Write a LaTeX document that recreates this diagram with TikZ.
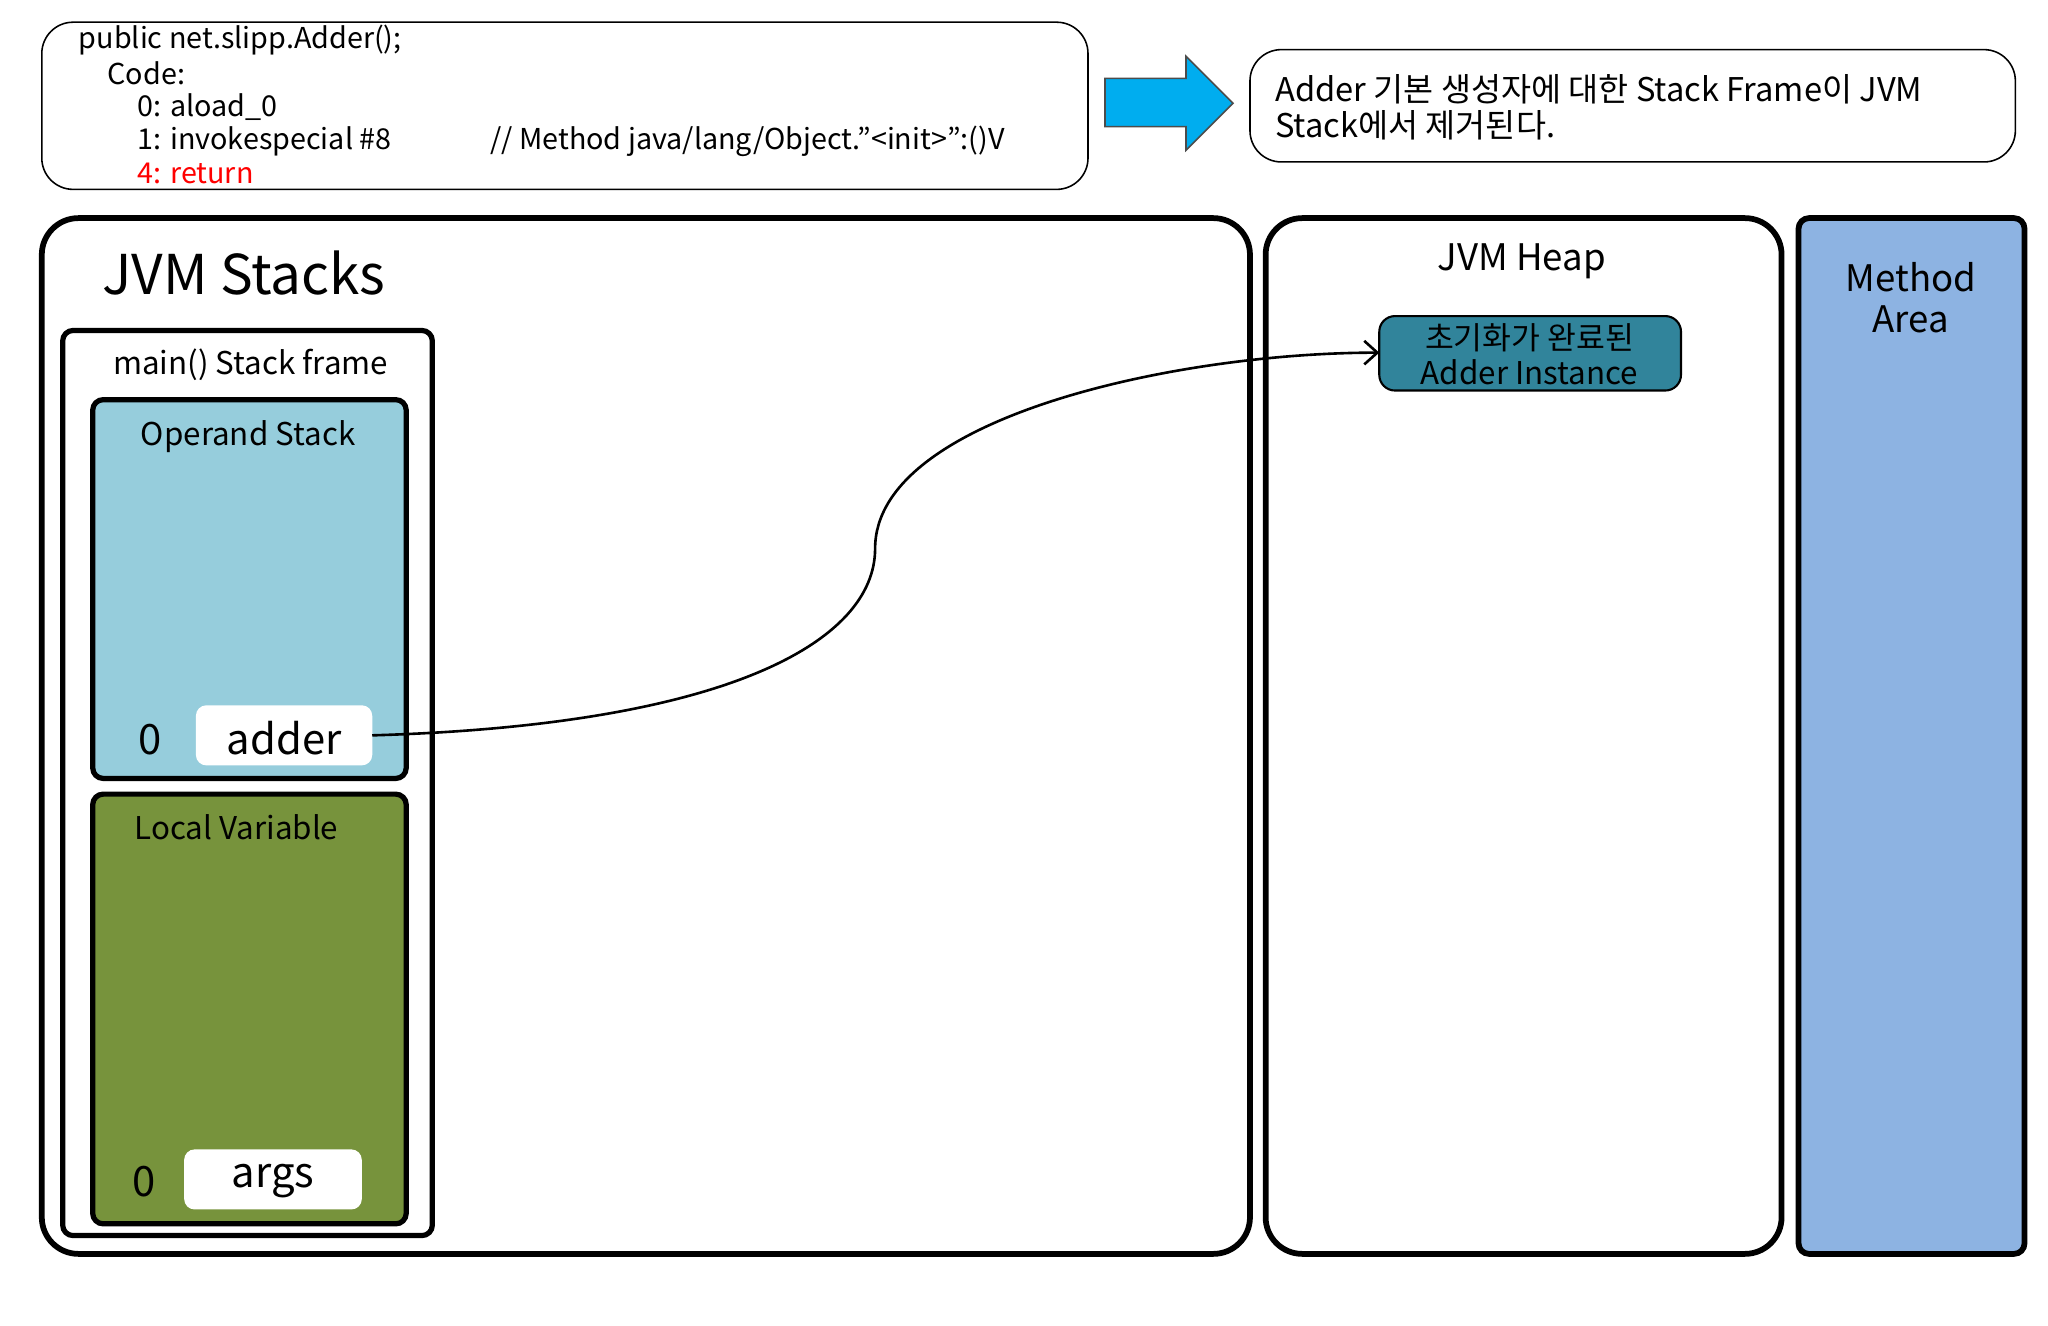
\documentclass[tikz,border=0pt]{standalone}
\usepackage{fontspec}
\setmainfont{Noto Sans CJK KR}
\usetikzlibrary{arrows.meta}
\begin{document}
\begin{tikzpicture}[x=0.5pt,y=-0.5pt,
  thinbox/.style={draw,rounded corners=12pt,line width=0.6pt},
  thickbox/.style={draw,rounded corners=14pt,line width=2.2pt},
  frame/.style={draw,rounded corners=4pt,line width=2pt},
  cell/.style={fill=white,rounded corners=4pt},
  t/.style={anchor=west,inner sep=0,font=\fontsize{11}{11}\selectfont}]
\useasboundingbox[fill=white] (0,0) rectangle (1568,1015);
% code box
\draw[thinbox] (32,17) rectangle (833,145);
\node[t] (c1) at (60,31) {public net.slipp.Adder();};
\node[t] (c2) at (82,56) {Code:};
\node[t] (c3) at (105,82) {0: aload\_0};
\node[t] (c4) at (105,108) {1: invokespecial \#8};
\node[t] (c5) at (375,108) {// Method java/lang/Object.\symbol{34}<init>\symbol{34}:()V};
\node[t,text=red] (c6) at (105,133) {4: return};
% arrow
\draw[fill=cyan,draw=black!70,line width=0.6pt] (846,60)--(908,60)--(908,43)--(944,79)--(908,115)--(908,97)--(846,97)--cycle;
% note
\draw[thinbox] (957,38) rectangle (1543,124);
\node[t,font=\fontsize{12.5}{12.5}\selectfont] (n1) at (976,68) {Adder 기본 생성자에 대한 Stack Frame이 JVM};
\node[t,font=\fontsize{12.5}{12.5}\selectfont] (n2) at (976,96) {Stack에서 제거된다.};
% stacks
\draw[thickbox] (32,167) rectangle (957,960);
\node[t,font=\fontsize{21}{21}\selectfont] (st) at (78,209) {JVM Stacks};
\draw[frame] (48,253) rectangle (331,946);
\node[font=\fontsize{12}{12}\selectfont] (mf) at (192,279) {main() Stack frame};
\draw[frame,fill={rgb,255:red,150;green,205;blue,220}] (71,306) rectangle (311,596);
\node[font=\fontsize{12}{12}\selectfont] (os) at (190,334) {Operand Stack};
\node[font=\fontsize{16}{16}\selectfont] (z1) at (115,566) {0};
\fill[cell] (150,540) rectangle (285,586);
\node[font=\fontsize{16}{16}\selectfont] (adder) at (217.5,565) {adder};
\coordinate (ae) at (285,563);
\draw[frame,fill={rgb,255:red,119;green,147;blue,60}] (71,608) rectangle (311,937);
\node[font=\fontsize{12}{12}\selectfont] (lv) at (181,633) {Local Variable};
\node[font=\fontsize{16}{16}\selectfont] (z2) at (110,905) {0};
\fill[cell] (141,880) rectangle (277,926);
\node[font=\fontsize{16}{16}\selectfont] (args) at (209,904) {args};
% heap
\draw[thickbox] (969,167) rectangle (1364,960);
\node[font=\fontsize{14}{14}\selectfont] (hp) at (1165,200) {JVM Heap};
\draw[rounded corners=6pt,fill={rgb,255:red,49;green,132;blue,155},line width=0.8pt] (1056,242) rectangle (1287,299);
\node[align=center,font=\fontsize{12}{13.5}\selectfont,inner sep=0] (inst) at (1171,271) {초기화가 완료된\\Adder Instance};
\coordinate (iw) at (1056,270);
% method area
\draw[draw,line width=2.2pt,rounded corners=4pt,fill={rgb,255:red,141;green,179;blue,226}] (1377,167) rectangle (1550,960);
\node[align=center,font=\fontsize{14}{15.5}\selectfont] (ma) at (1463,228) {Method\\Area};
% curve
\draw[-{Straight Barb[length=5pt,width=9pt]},line width=1pt] (ae) .. controls (560,555) and (670,490) .. (670,420) .. controls (670,320) and (900,270) .. (iw);
\end{tikzpicture}
\end{document}
